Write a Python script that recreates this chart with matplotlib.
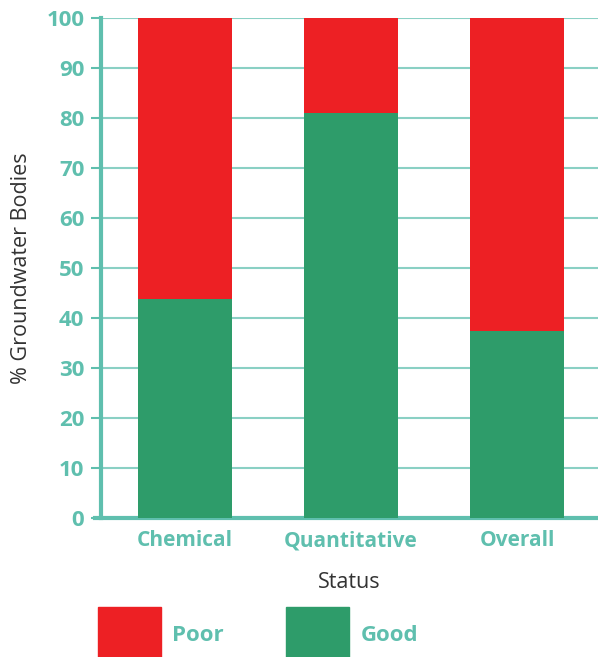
import numpy as np
import matplotlib.pyplot as plt
from matplotlib.patches import Patch

# 数据
categories = ['Chemical', 'Quantitative', 'Overall']
good = [43.8, 81.0, 37.4]
poor = [100 - g for g in good]

teal = '#5fbfae'
red = '#ed2024'
green = '#2e9c6a'

plt.rcParams['font.family'] = ['Open Sans', 'DejaVu Sans']

fig = plt.figure(figsize=(5.98, 6.57), dpi=100)
ax = fig.add_axes([101 / 598, 1 - 518 / 657, 497 / 598, 500 / 657])

x = np.arange(len(categories))
ax.bar(x, good, width=0.566, color=green, zorder=3)
ax.bar(x, poor, bottom=good, width=0.566, color=red, zorder=3)

ax.set_xlim(-0.506, 2.488)
ax.set_ylim(0, 100)
ax.set_yticks(range(0, 101, 10))
ax.set_xticks(x)
ax.set_xticklabels(categories)

# 网格线
ax.grid(axis='y', color='#8ad0c4', linewidth=1.5, zorder=0)
for side in ['top', 'right']:
    ax.spines[side].set_visible(False)
for side in ['left', 'bottom']:
    ax.spines[side].set_color(teal)
    ax.spines[side].set_linewidth(3)
ax.spines['bottom'].set_bounds(-0.545, 2.488)
ax.spines['bottom'].set_clip_on(False)

ax.tick_params(axis='y', colors=teal, length=7, width=1.5, labelsize=16, pad=5)
ax.tick_params(axis='x', length=0, colors=teal, labelsize=15, pad=9)
for lab in ax.get_xticklabels() + ax.get_yticklabels():
    lab.set_fontweight('bold')

ax.set_ylabel('% Groundwater Bodies', fontsize=15.5, color='#333333', labelpad=10)
ax.set_xlabel('Status', fontsize=15.5, color='#333333', labelpad=15)

# 图例
handles = [Patch(color=red, label='Poor'), Patch(color=green, label='Good')]
leg = fig.legend(handles=handles, loc='lower left', bbox_to_anchor=(98 / 598, -6 / 657),
                 ncol=2, frameon=False, handlelength=2.84, handleheight=3.5,
                 handletextpad=0.5, columnspacing=2.8, fontsize=16,
                 borderpad=0, borderaxespad=0)
for t in leg.get_texts():
    t.set_color(teal)
    t.set_fontweight('bold')

plt.savefig('out.png', dpi=100)
